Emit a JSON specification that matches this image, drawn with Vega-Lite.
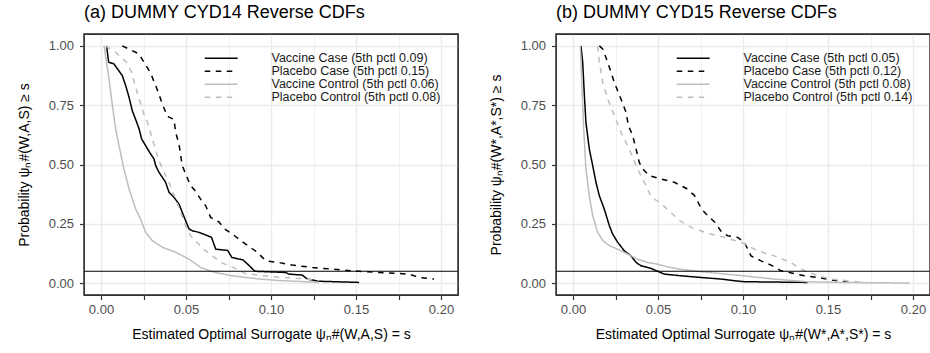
{
  "$schema": "https://vega.github.io/schema/vega-lite/v6.json",
  "padding": {"left": 16, "right": 0, "top": 3, "bottom": 4},
  "spacing": 28,
  "config": {
    "font": "Liberation Sans",
    "view": {"stroke": "#333333", "strokeWidth": 1.2},
    "axis": {
      "domain": false,
      "grid": true,
      "ticks": true,
      "gridColor": "#EBEBEB",
      "tickColor": "#333333",
      "tickWidth": 1.2,
      "tickSize": 4.5,
      "labelColor": "#4D4D4D",
      "labelFontSize": 13,
      "titleFontSize": 14,
      "titleColor": "#000000",
      "titleFontWeight": "normal",
      "labelFlush": false,
      "labelOverlap": false
    },
    "title": {"fontSize": 18, "fontWeight": "normal", "anchor": "start", "frame": "group", "offset": 11, "color": "#000000"}
  },
  "datasets": {
    "cyd14": [
      {"s": "Vaccine Case (5th pctl 0.09)", "x": 0.0033, "y": 1.0},
      {"s": "Vaccine Case (5th pctl 0.09)", "x": 0.0045, "y": 0.931},
      {"s": "Vaccine Case (5th pctl 0.09)", "x": 0.0076, "y": 0.924},
      {"s": "Vaccine Case (5th pctl 0.09)", "x": 0.0105, "y": 0.895},
      {"s": "Vaccine Case (5th pctl 0.09)", "x": 0.0125, "y": 0.875},
      {"s": "Vaccine Case (5th pctl 0.09)", "x": 0.0145, "y": 0.833},
      {"s": "Vaccine Case (5th pctl 0.09)", "x": 0.0165, "y": 0.783},
      {"s": "Vaccine Case (5th pctl 0.09)", "x": 0.0184, "y": 0.727},
      {"s": "Vaccine Case (5th pctl 0.09)", "x": 0.0210, "y": 0.678},
      {"s": "Vaccine Case (5th pctl 0.09)", "x": 0.0224, "y": 0.650},
      {"s": "Vaccine Case (5th pctl 0.09)", "x": 0.0239, "y": 0.608},
      {"s": "Vaccine Case (5th pctl 0.09)", "x": 0.0263, "y": 0.579},
      {"s": "Vaccine Case (5th pctl 0.09)", "x": 0.0286, "y": 0.551},
      {"s": "Vaccine Case (5th pctl 0.09)", "x": 0.0312, "y": 0.523},
      {"s": "Vaccine Case (5th pctl 0.09)", "x": 0.0322, "y": 0.495},
      {"s": "Vaccine Case (5th pctl 0.09)", "x": 0.0341, "y": 0.467},
      {"s": "Vaccine Case (5th pctl 0.09)", "x": 0.0361, "y": 0.446},
      {"s": "Vaccine Case (5th pctl 0.09)", "x": 0.0380, "y": 0.425},
      {"s": "Vaccine Case (5th pctl 0.09)", "x": 0.0400, "y": 0.383},
      {"s": "Vaccine Case (5th pctl 0.09)", "x": 0.0429, "y": 0.362},
      {"s": "Vaccine Case (5th pctl 0.09)", "x": 0.0459, "y": 0.333},
      {"s": "Vaccine Case (5th pctl 0.09)", "x": 0.0478, "y": 0.298},
      {"s": "Vaccine Case (5th pctl 0.09)", "x": 0.0498, "y": 0.263},
      {"s": "Vaccine Case (5th pctl 0.09)", "x": 0.0518, "y": 0.228},
      {"s": "Vaccine Case (5th pctl 0.09)", "x": 0.0537, "y": 0.221},
      {"s": "Vaccine Case (5th pctl 0.09)", "x": 0.0576, "y": 0.214},
      {"s": "Vaccine Case (5th pctl 0.09)", "x": 0.0616, "y": 0.203},
      {"s": "Vaccine Case (5th pctl 0.09)", "x": 0.0650, "y": 0.193},
      {"s": "Vaccine Case (5th pctl 0.09)", "x": 0.0675, "y": 0.143},
      {"s": "Vaccine Case (5th pctl 0.09)", "x": 0.0745, "y": 0.138},
      {"s": "Vaccine Case (5th pctl 0.09)", "x": 0.0770, "y": 0.108},
      {"s": "Vaccine Case (5th pctl 0.09)", "x": 0.0835, "y": 0.098},
      {"s": "Vaccine Case (5th pctl 0.09)", "x": 0.0870, "y": 0.075},
      {"s": "Vaccine Case (5th pctl 0.09)", "x": 0.0905, "y": 0.050},
      {"s": "Vaccine Case (5th pctl 0.09)", "x": 0.1086, "y": 0.045},
      {"s": "Vaccine Case (5th pctl 0.09)", "x": 0.1106, "y": 0.038},
      {"s": "Vaccine Case (5th pctl 0.09)", "x": 0.1184, "y": 0.034},
      {"s": "Vaccine Case (5th pctl 0.09)", "x": 0.1214, "y": 0.017},
      {"s": "Vaccine Case (5th pctl 0.09)", "x": 0.1282, "y": 0.008},
      {"s": "Vaccine Case (5th pctl 0.09)", "x": 0.1518, "y": 0.003},

      {"s": "Placebo Case (5th pctl 0.15)", "x": 0.0125, "y": 1.0},
      {"s": "Placebo Case (5th pctl 0.15)", "x": 0.0224, "y": 0.966},
      {"s": "Placebo Case (5th pctl 0.15)", "x": 0.0253, "y": 0.931},
      {"s": "Placebo Case (5th pctl 0.15)", "x": 0.0292, "y": 0.885},
      {"s": "Placebo Case (5th pctl 0.15)", "x": 0.0331, "y": 0.815},
      {"s": "Placebo Case (5th pctl 0.15)", "x": 0.0361, "y": 0.755},
      {"s": "Placebo Case (5th pctl 0.15)", "x": 0.0390, "y": 0.703},
      {"s": "Placebo Case (5th pctl 0.15)", "x": 0.0429, "y": 0.690},
      {"s": "Placebo Case (5th pctl 0.15)", "x": 0.0439, "y": 0.636},
      {"s": "Placebo Case (5th pctl 0.15)", "x": 0.0459, "y": 0.585},
      {"s": "Placebo Case (5th pctl 0.15)", "x": 0.0478, "y": 0.495},
      {"s": "Placebo Case (5th pctl 0.15)", "x": 0.0498, "y": 0.460},
      {"s": "Placebo Case (5th pctl 0.15)", "x": 0.0527, "y": 0.411},
      {"s": "Placebo Case (5th pctl 0.15)", "x": 0.0550, "y": 0.393},
      {"s": "Placebo Case (5th pctl 0.15)", "x": 0.0586, "y": 0.354},
      {"s": "Placebo Case (5th pctl 0.15)", "x": 0.0616, "y": 0.326},
      {"s": "Placebo Case (5th pctl 0.15)", "x": 0.0645, "y": 0.277},
      {"s": "Placebo Case (5th pctl 0.15)", "x": 0.0694, "y": 0.258},
      {"s": "Placebo Case (5th pctl 0.15)", "x": 0.0724, "y": 0.230},
      {"s": "Placebo Case (5th pctl 0.15)", "x": 0.0773, "y": 0.207},
      {"s": "Placebo Case (5th pctl 0.15)", "x": 0.0822, "y": 0.179},
      {"s": "Placebo Case (5th pctl 0.15)", "x": 0.0870, "y": 0.155},
      {"s": "Placebo Case (5th pctl 0.15)", "x": 0.0920, "y": 0.130},
      {"s": "Placebo Case (5th pctl 0.15)", "x": 0.0969, "y": 0.094},
      {"s": "Placebo Case (5th pctl 0.15)", "x": 0.1047, "y": 0.087},
      {"s": "Placebo Case (5th pctl 0.15)", "x": 0.1125, "y": 0.076},
      {"s": "Placebo Case (5th pctl 0.15)", "x": 0.1243, "y": 0.066},
      {"s": "Placebo Case (5th pctl 0.15)", "x": 0.1361, "y": 0.059},
      {"s": "Placebo Case (5th pctl 0.15)", "x": 0.1478, "y": 0.052},
      {"s": "Placebo Case (5th pctl 0.15)", "x": 0.1635, "y": 0.045},
      {"s": "Placebo Case (5th pctl 0.15)", "x": 0.1812, "y": 0.038},
      {"s": "Placebo Case (5th pctl 0.15)", "x": 0.1871, "y": 0.024},
      {"s": "Placebo Case (5th pctl 0.15)", "x": 0.1959, "y": 0.017},

      {"s": "Vaccine Control (5th pctl 0.06)", "x": 0.0018, "y": 1.0},
      {"s": "Vaccine Control (5th pctl 0.06)", "x": 0.0047, "y": 0.861},
      {"s": "Vaccine Control (5th pctl 0.06)", "x": 0.0067, "y": 0.748},
      {"s": "Vaccine Control (5th pctl 0.06)", "x": 0.0086, "y": 0.650},
      {"s": "Vaccine Control (5th pctl 0.06)", "x": 0.0106, "y": 0.579},
      {"s": "Vaccine Control (5th pctl 0.06)", "x": 0.0135, "y": 0.481},
      {"s": "Vaccine Control (5th pctl 0.06)", "x": 0.0165, "y": 0.397},
      {"s": "Vaccine Control (5th pctl 0.06)", "x": 0.0204, "y": 0.312},
      {"s": "Vaccine Control (5th pctl 0.06)", "x": 0.0233, "y": 0.270},
      {"s": "Vaccine Control (5th pctl 0.06)", "x": 0.0263, "y": 0.214},
      {"s": "Vaccine Control (5th pctl 0.06)", "x": 0.0302, "y": 0.179},
      {"s": "Vaccine Control (5th pctl 0.06)", "x": 0.0361, "y": 0.151},
      {"s": "Vaccine Control (5th pctl 0.06)", "x": 0.0439, "y": 0.130},
      {"s": "Vaccine Control (5th pctl 0.06)", "x": 0.0518, "y": 0.101},
      {"s": "Vaccine Control (5th pctl 0.06)", "x": 0.0586, "y": 0.066},
      {"s": "Vaccine Control (5th pctl 0.06)", "x": 0.0665, "y": 0.046},
      {"s": "Vaccine Control (5th pctl 0.06)", "x": 0.0770, "y": 0.031},
      {"s": "Vaccine Control (5th pctl 0.06)", "x": 0.0920, "y": 0.018},
      {"s": "Vaccine Control (5th pctl 0.06)", "x": 0.1047, "y": 0.011},
      {"s": "Vaccine Control (5th pctl 0.06)", "x": 0.1204, "y": 0.006},
      {"s": "Vaccine Control (5th pctl 0.06)", "x": 0.1282, "y": 0.003},

      {"s": "Placebo Control (5th pctl 0.08)", "x": 0.0027, "y": 1.0},
      {"s": "Placebo Control (5th pctl 0.08)", "x": 0.0086, "y": 0.973},
      {"s": "Placebo Control (5th pctl 0.08)", "x": 0.0150, "y": 0.931},
      {"s": "Placebo Control (5th pctl 0.08)", "x": 0.0180, "y": 0.889},
      {"s": "Placebo Control (5th pctl 0.08)", "x": 0.0214, "y": 0.800},
      {"s": "Placebo Control (5th pctl 0.08)", "x": 0.0253, "y": 0.710},
      {"s": "Placebo Control (5th pctl 0.08)", "x": 0.0273, "y": 0.678},
      {"s": "Placebo Control (5th pctl 0.08)", "x": 0.0302, "y": 0.608},
      {"s": "Placebo Control (5th pctl 0.08)", "x": 0.0331, "y": 0.537},
      {"s": "Placebo Control (5th pctl 0.08)", "x": 0.0361, "y": 0.481},
      {"s": "Placebo Control (5th pctl 0.08)", "x": 0.0400, "y": 0.425},
      {"s": "Placebo Control (5th pctl 0.08)", "x": 0.0439, "y": 0.354},
      {"s": "Placebo Control (5th pctl 0.08)", "x": 0.0469, "y": 0.298},
      {"s": "Placebo Control (5th pctl 0.08)", "x": 0.0498, "y": 0.242},
      {"s": "Placebo Control (5th pctl 0.08)", "x": 0.0527, "y": 0.200},
      {"s": "Placebo Control (5th pctl 0.08)", "x": 0.0600, "y": 0.145},
      {"s": "Placebo Control (5th pctl 0.08)", "x": 0.0665, "y": 0.110},
      {"s": "Placebo Control (5th pctl 0.08)", "x": 0.0705, "y": 0.087},
      {"s": "Placebo Control (5th pctl 0.08)", "x": 0.0790, "y": 0.062},
      {"s": "Placebo Control (5th pctl 0.08)", "x": 0.0851, "y": 0.040},
      {"s": "Placebo Control (5th pctl 0.08)", "x": 0.0959, "y": 0.031},
      {"s": "Placebo Control (5th pctl 0.08)", "x": 0.1067, "y": 0.024},
      {"s": "Placebo Control (5th pctl 0.08)", "x": 0.1165, "y": 0.020},
      {"s": "Placebo Control (5th pctl 0.08)", "x": 0.1243, "y": 0.014},
      {"s": "Placebo Control (5th pctl 0.08)", "x": 0.1282, "y": 0.010}
    ],
    "cyd15": [
      {"s": "Vaccine Case (5th pctl 0.05)", "x": 0.0047, "y": 1.0},
      {"s": "Vaccine Case (5th pctl 0.05)", "x": 0.0057, "y": 0.931},
      {"s": "Vaccine Case (5th pctl 0.05)", "x": 0.0067, "y": 0.790},
      {"s": "Vaccine Case (5th pctl 0.05)", "x": 0.0076, "y": 0.678},
      {"s": "Vaccine Case (5th pctl 0.05)", "x": 0.0096, "y": 0.565},
      {"s": "Vaccine Case (5th pctl 0.05)", "x": 0.0116, "y": 0.495},
      {"s": "Vaccine Case (5th pctl 0.05)", "x": 0.0135, "y": 0.425},
      {"s": "Vaccine Case (5th pctl 0.05)", "x": 0.0155, "y": 0.368},
      {"s": "Vaccine Case (5th pctl 0.05)", "x": 0.0184, "y": 0.312},
      {"s": "Vaccine Case (5th pctl 0.05)", "x": 0.0214, "y": 0.242},
      {"s": "Vaccine Case (5th pctl 0.05)", "x": 0.0233, "y": 0.207},
      {"s": "Vaccine Case (5th pctl 0.05)", "x": 0.0263, "y": 0.172},
      {"s": "Vaccine Case (5th pctl 0.05)", "x": 0.0302, "y": 0.136},
      {"s": "Vaccine Case (5th pctl 0.05)", "x": 0.0341, "y": 0.115},
      {"s": "Vaccine Case (5th pctl 0.05)", "x": 0.0371, "y": 0.087},
      {"s": "Vaccine Case (5th pctl 0.05)", "x": 0.0400, "y": 0.073},
      {"s": "Vaccine Case (5th pctl 0.05)", "x": 0.0459, "y": 0.062},
      {"s": "Vaccine Case (5th pctl 0.05)", "x": 0.0498, "y": 0.050},
      {"s": "Vaccine Case (5th pctl 0.05)", "x": 0.0537, "y": 0.038},
      {"s": "Vaccine Case (5th pctl 0.05)", "x": 0.0635, "y": 0.031},
      {"s": "Vaccine Case (5th pctl 0.05)", "x": 0.0753, "y": 0.024},
      {"s": "Vaccine Case (5th pctl 0.05)", "x": 0.0871, "y": 0.017},
      {"s": "Vaccine Case (5th pctl 0.05)", "x": 0.0950, "y": 0.010},
      {"s": "Vaccine Case (5th pctl 0.05)", "x": 0.1008, "y": 0.006},
      {"s": "Vaccine Case (5th pctl 0.05)", "x": 0.1380, "y": 0.003},

      {"s": "Placebo Case (5th pctl 0.12)", "x": 0.0155, "y": 1.0},
      {"s": "Placebo Case (5th pctl 0.12)", "x": 0.0175, "y": 0.987},
      {"s": "Placebo Case (5th pctl 0.12)", "x": 0.0204, "y": 0.931},
      {"s": "Placebo Case (5th pctl 0.12)", "x": 0.0243, "y": 0.846},
      {"s": "Placebo Case (5th pctl 0.12)", "x": 0.0282, "y": 0.776},
      {"s": "Placebo Case (5th pctl 0.12)", "x": 0.0312, "y": 0.720},
      {"s": "Placebo Case (5th pctl 0.12)", "x": 0.0326, "y": 0.664},
      {"s": "Placebo Case (5th pctl 0.12)", "x": 0.0351, "y": 0.622},
      {"s": "Placebo Case (5th pctl 0.12)", "x": 0.0371, "y": 0.565},
      {"s": "Placebo Case (5th pctl 0.12)", "x": 0.0390, "y": 0.509},
      {"s": "Placebo Case (5th pctl 0.12)", "x": 0.0410, "y": 0.481},
      {"s": "Placebo Case (5th pctl 0.12)", "x": 0.0449, "y": 0.453},
      {"s": "Placebo Case (5th pctl 0.12)", "x": 0.0518, "y": 0.439},
      {"s": "Placebo Case (5th pctl 0.12)", "x": 0.0596, "y": 0.425},
      {"s": "Placebo Case (5th pctl 0.12)", "x": 0.0665, "y": 0.400},
      {"s": "Placebo Case (5th pctl 0.12)", "x": 0.0714, "y": 0.370},
      {"s": "Placebo Case (5th pctl 0.12)", "x": 0.0758, "y": 0.310},
      {"s": "Placebo Case (5th pctl 0.12)", "x": 0.0792, "y": 0.284},
      {"s": "Placebo Case (5th pctl 0.12)", "x": 0.0836, "y": 0.256},
      {"s": "Placebo Case (5th pctl 0.12)", "x": 0.0875, "y": 0.214},
      {"s": "Placebo Case (5th pctl 0.12)", "x": 0.0910, "y": 0.200},
      {"s": "Placebo Case (5th pctl 0.12)", "x": 0.0969, "y": 0.193},
      {"s": "Placebo Case (5th pctl 0.12)", "x": 0.1008, "y": 0.172},
      {"s": "Placebo Case (5th pctl 0.12)", "x": 0.1047, "y": 0.115},
      {"s": "Placebo Case (5th pctl 0.12)", "x": 0.1106, "y": 0.094},
      {"s": "Placebo Case (5th pctl 0.12)", "x": 0.1165, "y": 0.076},
      {"s": "Placebo Case (5th pctl 0.12)", "x": 0.1224, "y": 0.052},
      {"s": "Placebo Case (5th pctl 0.12)", "x": 0.1292, "y": 0.042},
      {"s": "Placebo Case (5th pctl 0.12)", "x": 0.1361, "y": 0.031},
      {"s": "Placebo Case (5th pctl 0.12)", "x": 0.1439, "y": 0.024},
      {"s": "Placebo Case (5th pctl 0.12)", "x": 0.1518, "y": 0.014},
      {"s": "Placebo Case (5th pctl 0.12)", "x": 0.1625, "y": 0.003},

      {"s": "Vaccine Control (5th pctl 0.08)", "x": 0.0043, "y": 1.0},
      {"s": "Vaccine Control (5th pctl 0.08)", "x": 0.0051, "y": 0.861},
      {"s": "Vaccine Control (5th pctl 0.08)", "x": 0.0063, "y": 0.650},
      {"s": "Vaccine Control (5th pctl 0.08)", "x": 0.0076, "y": 0.481},
      {"s": "Vaccine Control (5th pctl 0.08)", "x": 0.0096, "y": 0.368},
      {"s": "Vaccine Control (5th pctl 0.08)", "x": 0.0116, "y": 0.284},
      {"s": "Vaccine Control (5th pctl 0.08)", "x": 0.0145, "y": 0.214},
      {"s": "Vaccine Control (5th pctl 0.08)", "x": 0.0175, "y": 0.179},
      {"s": "Vaccine Control (5th pctl 0.08)", "x": 0.0214, "y": 0.158},
      {"s": "Vaccine Control (5th pctl 0.08)", "x": 0.0263, "y": 0.143},
      {"s": "Vaccine Control (5th pctl 0.08)", "x": 0.0322, "y": 0.122},
      {"s": "Vaccine Control (5th pctl 0.08)", "x": 0.0380, "y": 0.101},
      {"s": "Vaccine Control (5th pctl 0.08)", "x": 0.0439, "y": 0.087},
      {"s": "Vaccine Control (5th pctl 0.08)", "x": 0.0498, "y": 0.080},
      {"s": "Vaccine Control (5th pctl 0.08)", "x": 0.0557, "y": 0.068},
      {"s": "Vaccine Control (5th pctl 0.08)", "x": 0.0635, "y": 0.058},
      {"s": "Vaccine Control (5th pctl 0.08)", "x": 0.0753, "y": 0.048},
      {"s": "Vaccine Control (5th pctl 0.08)", "x": 0.0871, "y": 0.040},
      {"s": "Vaccine Control (5th pctl 0.08)", "x": 0.0988, "y": 0.032},
      {"s": "Vaccine Control (5th pctl 0.08)", "x": 0.1184, "y": 0.017},
      {"s": "Vaccine Control (5th pctl 0.08)", "x": 0.1380, "y": 0.006},
      {"s": "Vaccine Control (5th pctl 0.08)", "x": 0.1576, "y": 0.003},
      {"s": "Vaccine Control (5th pctl 0.08)", "x": 0.1980, "y": 0.0005},

      {"s": "Placebo Control (5th pctl 0.14)", "x": 0.0145, "y": 1.0},
      {"s": "Placebo Control (5th pctl 0.14)", "x": 0.0155, "y": 0.931},
      {"s": "Placebo Control (5th pctl 0.14)", "x": 0.0175, "y": 0.846},
      {"s": "Placebo Control (5th pctl 0.14)", "x": 0.0204, "y": 0.776},
      {"s": "Placebo Control (5th pctl 0.14)", "x": 0.0243, "y": 0.706},
      {"s": "Placebo Control (5th pctl 0.14)", "x": 0.0282, "y": 0.636},
      {"s": "Placebo Control (5th pctl 0.14)", "x": 0.0331, "y": 0.565},
      {"s": "Placebo Control (5th pctl 0.14)", "x": 0.0380, "y": 0.481},
      {"s": "Placebo Control (5th pctl 0.14)", "x": 0.0420, "y": 0.425},
      {"s": "Placebo Control (5th pctl 0.14)", "x": 0.0459, "y": 0.365},
      {"s": "Placebo Control (5th pctl 0.14)", "x": 0.0518, "y": 0.335},
      {"s": "Placebo Control (5th pctl 0.14)", "x": 0.0576, "y": 0.298},
      {"s": "Placebo Control (5th pctl 0.14)", "x": 0.0625, "y": 0.265},
      {"s": "Placebo Control (5th pctl 0.14)", "x": 0.0704, "y": 0.232},
      {"s": "Placebo Control (5th pctl 0.14)", "x": 0.0792, "y": 0.210},
      {"s": "Placebo Control (5th pctl 0.14)", "x": 0.0890, "y": 0.193},
      {"s": "Placebo Control (5th pctl 0.14)", "x": 0.0988, "y": 0.172},
      {"s": "Placebo Control (5th pctl 0.14)", "x": 0.1086, "y": 0.136},
      {"s": "Placebo Control (5th pctl 0.14)", "x": 0.1184, "y": 0.115},
      {"s": "Placebo Control (5th pctl 0.14)", "x": 0.1282, "y": 0.087},
      {"s": "Placebo Control (5th pctl 0.14)", "x": 0.1341, "y": 0.059},
      {"s": "Placebo Control (5th pctl 0.14)", "x": 0.1439, "y": 0.031},
      {"s": "Placebo Control (5th pctl 0.14)", "x": 0.1518, "y": 0.017},
      {"s": "Placebo Control (5th pctl 0.14)", "x": 0.1616, "y": 0.010},
      {"s": "Placebo Control (5th pctl 0.14)", "x": 0.1694, "y": 0.003}
    ],
    "ref": [{"h": 0.05}]
  },
  "resolve": {"scale": {"color": "independent", "strokeDash": "independent"}, "legend": {"color": "independent", "strokeDash": "independent"}},
  "hconcat": [
    {
      "title": "(a) DUMMY CYD14 Reverse CDFs",
      "width": 374,
      "height": 261,
      "layer": [
        {
          "data": {"name": "cyd14"},
          "mark": {"type": "line", "strokeWidth": 1.5},
          "encoding": {
            "x": {"field": "x", "type": "quantitative", "scale": {"domain": [-0.01, 0.21], "nice": false, "zero": false},
              "axis": {"values": [0, 0.025, 0.05, 0.075, 0.1, 0.125, 0.15, 0.175, 0.2],
                "labelExpr": "abs(datum.value*20 - round(datum.value*20)) < 0.001 ? format(datum.value, '.2f') : ''",
                "gridWidth": {"condition": {"test": "abs(datum.value*20 - round(datum.value*20)) < 0.001", "value": 1.4}, "value": 0.7},
                "labelPadding": 4, "titlePadding": 11},
              "title": "Estimated Optimal Surrogate ψₙ#(W,A,S) = s"},
            "y": {"field": "y", "type": "quantitative", "scale": {"domain": [-0.05, 1.05], "nice": false, "zero": false},
              "axis": {"values": [0, 0.125, 0.25, 0.375, 0.5, 0.625, 0.75, 0.875, 1],
                "labelExpr": "abs(datum.value*4 - round(datum.value*4)) < 0.001 ? format(datum.value, '.2f') : ''",
                "gridWidth": {"condition": {"test": "abs(datum.value*4 - round(datum.value*4)) < 0.001", "value": 1.4}, "value": 0.7},
                "labelPadding": 6, "titlePadding": 17},
              "title": "Probability ψₙ#(W,A,S) ≥ s"},
            "color": {"field": "s", "type": "nominal",
              "scale": {"domain": ["Vaccine Case (5th pctl 0.09)", "Placebo Case (5th pctl 0.15)", "Vaccine Control (5th pctl 0.06)", "Placebo Control (5th pctl 0.08)"], "range": ["#000000", "#000000", "#BEBEBE", "#BEBEBE"]},
              "legend": {"title": null, "orient": "none", "legendX": 118, "legendY": 18, "symbolType": "M-1,0H8.4", "symbolSize": 49, "symbolStrokeWidth": 1.5, "labelFontSize": 12.5, "labelColor": "#1A1A1A", "labelOffset": 57, "rowPadding": -3, "padding": 0, "labelLimit": 400}},
            "strokeDash": {"field": "s", "type": "nominal",
              "scale": {"domain": ["Vaccine Case (5th pctl 0.09)", "Placebo Case (5th pctl 0.15)", "Vaccine Control (5th pctl 0.06)", "Placebo Control (5th pctl 0.08)"], "range": [[1, 0], [5.5, 5.5], [1, 0], [5.5, 5.5]]},
              "legend": {"title": null, "orient": "none", "legendX": 118, "legendY": 18, "symbolType": "M-1,0H8.4", "symbolSize": 49, "symbolStrokeWidth": 1.5, "labelFontSize": 12.5, "labelColor": "#1A1A1A", "labelOffset": 57, "rowPadding": -3, "padding": 0, "labelLimit": 400}},
            "order": {"value": null}
          }
        },
        {
          "data": {"name": "ref"},
          "mark": {"type": "rule", "color": "#000000", "strokeWidth": 1.2},
          "encoding": {"y": {"field": "h", "type": "quantitative"}}
        },
        {
          "data": {"name": "ref"},
          "mark": {"type": "rect", "filled": false, "stroke": "#333333", "strokeWidth": 1.3},
          "encoding": {"x": {"datum": -0.01}, "x2": {"datum": 0.21}, "y": {"datum": -0.05}, "y2": {"datum": 1.05}}
        }
      ]
    },
    {
      "title": "(b) DUMMY CYD15 Reverse CDFs",
      "width": 374,
      "height": 261,
      "layer": [
        {
          "data": {"name": "cyd15"},
          "mark": {"type": "line", "strokeWidth": 1.5},
          "encoding": {
            "x": {"field": "x", "type": "quantitative", "scale": {"domain": [-0.01, 0.21], "nice": false, "zero": false},
              "axis": {"values": [0, 0.025, 0.05, 0.075, 0.1, 0.125, 0.15, 0.175, 0.2],
                "labelExpr": "abs(datum.value*20 - round(datum.value*20)) < 0.001 ? format(datum.value, '.2f') : ''",
                "gridWidth": {"condition": {"test": "abs(datum.value*20 - round(datum.value*20)) < 0.001", "value": 1.4}, "value": 0.7},
                "labelPadding": 4, "titlePadding": 11},
              "title": "Estimated Optimal Surrogate ψₙ#(W*,A*,S*) = s"},
            "y": {"field": "y", "type": "quantitative", "scale": {"domain": [-0.05, 1.05], "nice": false, "zero": false},
              "axis": {"values": [0, 0.125, 0.25, 0.375, 0.5, 0.625, 0.75, 0.875, 1],
                "labelExpr": "abs(datum.value*4 - round(datum.value*4)) < 0.001 ? format(datum.value, '.2f') : ''",
                "gridWidth": {"condition": {"test": "abs(datum.value*4 - round(datum.value*4)) < 0.001", "value": 1.4}, "value": 0.7},
                "labelPadding": 6, "titlePadding": 17},
              "title": "Probability ψₙ#(W*,A*,S*) ≥ s"},
            "color": {"field": "s", "type": "nominal",
              "scale": {"domain": ["Vaccine Case (5th pctl 0.05)", "Placebo Case (5th pctl 0.12)", "Vaccine Control (5th pctl 0.08)", "Placebo Control (5th pctl 0.14)"], "range": ["#000000", "#000000", "#BEBEBE", "#BEBEBE"]},
              "legend": {"title": null, "orient": "none", "legendX": 118, "legendY": 18, "symbolType": "M-1,0H8.4", "symbolSize": 49, "symbolStrokeWidth": 1.5, "labelFontSize": 12.5, "labelColor": "#1A1A1A", "labelOffset": 57, "rowPadding": -3, "padding": 0, "labelLimit": 400}},
            "strokeDash": {"field": "s", "type": "nominal",
              "scale": {"domain": ["Vaccine Case (5th pctl 0.05)", "Placebo Case (5th pctl 0.12)", "Vaccine Control (5th pctl 0.08)", "Placebo Control (5th pctl 0.14)"], "range": [[1, 0], [5.5, 5.5], [1, 0], [5.5, 5.5]]},
              "legend": {"title": null, "orient": "none", "legendX": 118, "legendY": 18, "symbolType": "M-1,0H8.4", "symbolSize": 49, "symbolStrokeWidth": 1.5, "labelFontSize": 12.5, "labelColor": "#1A1A1A", "labelOffset": 57, "rowPadding": -3, "padding": 0, "labelLimit": 400}},
            "order": {"value": null}
          }
        },
        {
          "data": {"name": "ref"},
          "mark": {"type": "rule", "color": "#000000", "strokeWidth": 1.2},
          "encoding": {"y": {"field": "h", "type": "quantitative"}}
        },
        {
          "data": {"name": "ref"},
          "mark": {"type": "rect", "filled": false, "stroke": "#333333", "strokeWidth": 1.3},
          "encoding": {"x": {"datum": -0.01}, "x2": {"datum": 0.21}, "y": {"datum": -0.05}, "y2": {"datum": 1.05}}
        }
      ]
    }
  ]
}
